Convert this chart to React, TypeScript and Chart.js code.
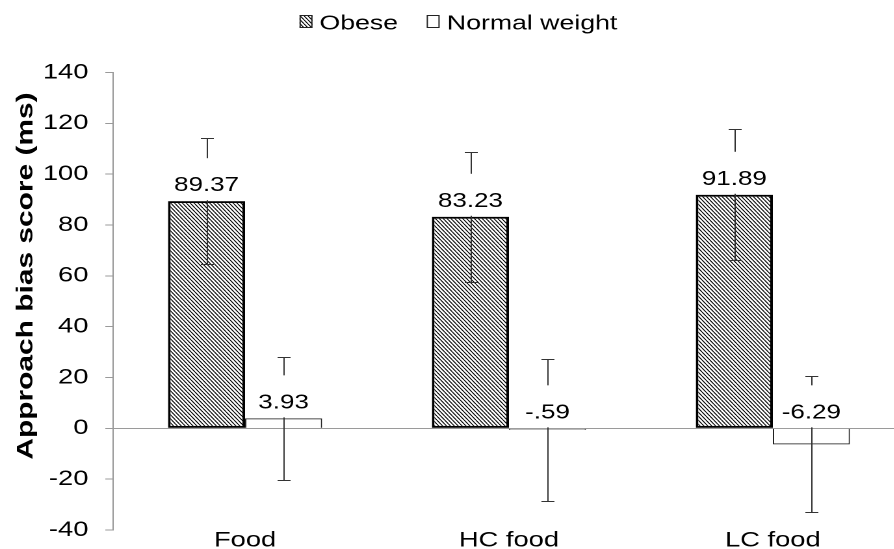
import React, { useEffect, useRef } from 'react';
import { Chart, registerables } from 'chart.js';

Chart.register(...registerables);

const categories = ['Food', 'HC food', 'LC food'];
const seriesNames = ['Obese', 'Normal weight'];
const obeseValues = [89.37, 83.23, 91.89];
const normalValues = [3.93, -0.59, -6.29];
const obeseErrors = [24.8, 25.5, 25.8];
const normalErrors = [24.1, 27.9, 26.8];
const yTicks = [-40, -20, 0, 20, 40, 60, 80, 100, 120, 140];
const yTitle = 'Approach bias score (ms)';

const SX = 1.3;
const FONT = '"Liberation Sans", Arial, Helvetica, sans-serif';
const AXIS_GRAY = '#9a9a9a';

function fmt(v: number): string {
  return v.toFixed(2).replace(/^(-?)0\./, '$1.');
}

function makeHatch(): CanvasPattern | string {
  const c = document.createElement('canvas');
  c.width = 6;
  c.height = 8;
  const g = c.getContext('2d');
  if (!g) return '#888';
  g.fillStyle = '#fff';
  g.fillRect(0, 0, 6, 8);
  g.strokeStyle = '#000';
  g.lineWidth = 1.7;
  g.beginPath();
  for (const x0 of [-6, 0, 6]) {
    g.moveTo(x0, 0);
    g.lineTo(x0 + 6, 8);
  }
  g.stroke();
  const p = g.createPattern(c, 'repeat');
  if (!p) return '#888';
  try {
    p.setTransform(new DOMMatrix([0.5, 0, 0, 0.5, 0, 0]));
  } catch (e) {
    /* ignore */
  }
  return p;
}

export default function App() {
  const ref = useRef<HTMLCanvasElement | null>(null);

  useEffect(() => {
    const canvas = ref.current;
    if (!canvas) return;
    const hatch = makeHatch();

    const overlay = {
      id: 'overlay',
      afterDatasetsDraw(chart: any) {
        const ctx: CanvasRenderingContext2D = chart.ctx;
        const ys = chart.scales.y;
        const vals = [obeseValues, normalValues];
        const errs = [obeseErrors, normalErrors];
        ctx.save();
        ctx.strokeStyle = '#333';
        ctx.lineWidth = 1;
        for (let d = 0; d < 2; d++) {
          const meta = chart.getDatasetMeta(d);
          meta.data.forEach((bar: any, i: number) => {
            const v = vals[d][i];
            const e = errs[d][i];
            const x = Math.round(bar.x) + 0.5;
            const yt = Math.round(ys.getPixelForValue(v + e)) + 0.5;
            const yb = Math.round(ys.getPixelForValue(v - e)) + 0.5;
            ctx.beginPath();
            ctx.moveTo(x, yt);
            ctx.lineTo(x, yb);
            ctx.moveTo(x - 5, yt);
            ctx.lineTo(x + 5, yt);
            ctx.moveTo(x - 5, yb);
            ctx.lineTo(x + 5, yb);
            ctx.stroke();
          });
        }
        ctx.font = `20px ${FONT}`;
        ctx.textAlign = 'center';
        ctx.textBaseline = 'alphabetic';
        for (let d = 0; d < 2; d++) {
          const meta = chart.getDatasetMeta(d);
          meta.data.forEach((bar: any, i: number) => {
            const v = vals[d][i];
            const y0 = ys.getPixelForValue(Math.max(v, 0));
            const txt = fmt(v);
            const w = ctx.measureText(txt).width;
            ctx.fillStyle = '#fff';
            ctx.fillRect(bar.x - w / 2 - 2, y0 - 43, w + 4, 42);
            ctx.fillStyle = '#000';
            ctx.fillText(txt, bar.x, y0 - 10);
          });
        }
        ctx.restore();
      },
      afterDraw(chart: any) {
        const ctx: CanvasRenderingContext2D = chart.ctx;
        ctx.save();
        // legend
        ctx.font = `20.5px ${FONT}`;
        ctx.textBaseline = 'alphabetic';
        const by = 15;
        const bh = 13;
        const bw = 10;
        const nbx = 328.2;
        ctx.fillStyle = '#fff';
        ctx.fillRect(nbx, by, bw, bh);
        ctx.strokeStyle = '#222';
        ctx.lineWidth = 1;
        ctx.strokeRect(nbx + 0.5, by + 0.5, bw - 1, bh - 1);
        ctx.fillStyle = '#000';
        ctx.textAlign = 'left';
        ctx.fillText(seriesNames[1], 343.8, 29.5);
        ctx.textAlign = 'right';
        ctx.fillText(seriesNames[0], 306.2, 29.5);
        const ow = ctx.measureText(seriesNames[0]).width;
        const obx = 306.2 - ow - 5.4 - bw;
        ctx.fillStyle = hatch as any;
        ctx.fillRect(obx, by, bw, bh);
        ctx.strokeRect(obx + 0.5, by + 0.5, bw - 1, bh - 1);
        // y title
        ctx.translate(20, 276);
        ctx.scale(1 / SX, SX);
        ctx.rotate(-Math.PI / 2);
        ctx.font = `bold 23px ${FONT}`;
        ctx.textAlign = 'center';
        ctx.textBaseline = 'middle';
        ctx.fillStyle = '#000';
        ctx.fillText(yTitle, 0, 0);
        ctx.restore();
      },
    };

    const chart = new Chart(canvas, {
      type: 'bar',
      data: {
        labels: categories,
        datasets: [
          {
            label: seriesNames[0],
            data: obeseValues,
            backgroundColor: hatch as any,
            borderColor: '#000',
            borderWidth: 2,
            borderSkipped: false,
            categoryPercentage: 0.584,
            barPercentage: 1,
          },
          {
            label: seriesNames[1],
            data: normalValues,
            backgroundColor: '#fff',
            borderColor: '#222',
            borderWidth: 1,
            categoryPercentage: 0.584,
            barPercentage: 1,
          },
        ],
      },
      options: {
        animation: false,
        responsive: false,
        devicePixelRatio: 2,
        layout: { padding: { top: 72.5, right: 4, left: 0, bottom: 0 } },
        plugins: { legend: { display: false }, tooltip: { enabled: false } },
        scales: {
          x: {
            grid: { display: false, drawTicks: false },
            border: { display: false },
            ticks: {
              font: { family: FONT, size: 21 },
              color: '#000',
              padding: -2,
              maxRotation: 0,
              autoSkip: false,
            },
            afterFit(s: any) {
              s.height = 19;
            },
          },
          y: {
            min: yTicks[0],
            max: yTicks[yTicks.length - 1],
            ticks: {
              stepSize: 20,
              font: { family: FONT, size: 21 },
              color: '#000',
              padding: 13,
            },
            grid: {
              color: (c: any) => (c.tick && c.tick.value === 0 ? AXIS_GRAY : 'rgba(0,0,0,0)'),
              tickColor: AXIS_GRAY,
              tickLength: 6,
              lineWidth: 1,
            },
            border: { display: true, color: AXIS_GRAY, width: 1 },
            afterFit(s: any) {
              s.width = 87;
              s.paddingTop = 0;
              s.paddingBottom = 0;
            },
          },
        },
      },
      plugins: [overlay],
    });
    return () => chart.destroy();
  }, []);

  return (
    <div
      style={{
        position: 'fixed',
        left: 0,
        top: 0,
        width: 894,
        height: 549,
        overflow: 'hidden',
        background: '#fff',
      }}
    >
      <div
        style={{
          position: 'relative',
          width: 700,
          height: 549,
          transform: `scaleX(${SX})`,
          transformOrigin: '0 0',
        }}
      >
        <canvas ref={ref} width={700} height={549} style={{ display: 'block' }} />
      </div>
    </div>
  );
}
